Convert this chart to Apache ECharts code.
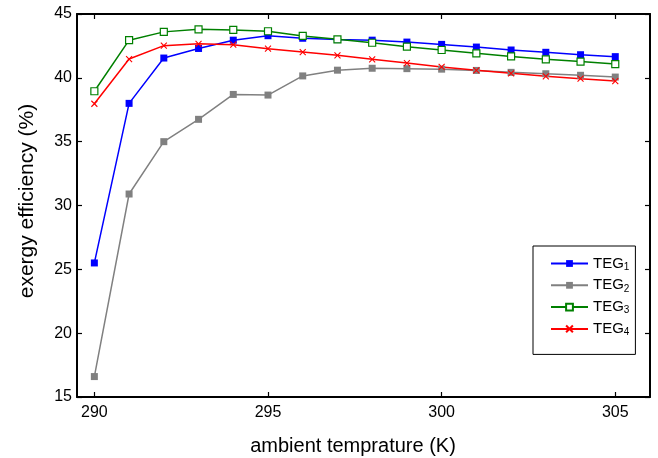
<!DOCTYPE html>
<html><head><meta charset="utf-8">
<script src="https://cdn.jsdelivr.net/npm/echarts@6/dist/echarts.min.js"></script>
<style>html,body{margin:0;padding:0;background:#fff}#c{width:658px;height:458px}</style>
</head><body><div id="c"></div>
<script>
const temps = [290,291,292,293,294,295,296,297,298,299,300,301,302,303,304,305];
const teg1 = [25.5,38.0,41.55,42.3,42.95,43.3,43.1,43.0,42.95,42.8,42.62,42.41,42.18,42.0,41.81,41.66];
const teg2 = [16.6,30.9,35.0,36.75,38.7,38.65,40.15,40.6,40.75,40.72,40.68,40.58,40.43,40.32,40.2,40.06];
const teg3 = [38.95,42.95,43.6,43.8,43.75,43.65,43.28,43.02,42.75,42.44,42.18,41.92,41.68,41.45,41.27,41.08];
const teg4 = [37.97,41.47,42.52,42.66,42.6,42.28,42.02,41.76,41.45,41.16,40.85,40.59,40.35,40.12,39.93,39.75];
const xTicks = [290,295,300,305];
const seriesNames = ['TEG1','TEG2','TEG3','TEG4'];
const xTitle = 'ambient temprature (K)';
const yTitle = 'exergy efficiency (%)';

const FONT = "'Liberation Sans', Arial, sans-serif";
const pair = arr => temps.map((t,i)=>[t,arr[i]]);

const chart = echarts.init(document.getElementById('c'), null, {renderer:'canvas'});
const axisCommonX = {
  type:'value', min:289.5, max:306,
  axisLine:{show:true, onZero:false, lineStyle:{color:'#000', width:2}},
  axisTick:{show:true, inside:true, length:5, customValues:xTicks, lineStyle:{color:'#000', width:1.2}},
  splitLine:{show:false}
};
const axisCommonY = {
  type:'value', min:15, max:45, interval:5,
  axisLine:{show:true, onZero:false, lineStyle:{color:'#000', width:2}},
  axisTick:{show:true, inside:true, length:5, lineStyle:{color:'#000', width:1.2}},
  splitLine:{show:false}
};
const option = {
  animation:false,
  backgroundColor:'#fff',
  grid:{left:77, right:8, top:14, bottom:61, containLabel:false, outerBoundsMode:'none'},
  xAxis:[
    Object.assign({}, axisCommonX, {position:'bottom',
      axisLabel:{show:true, customValues:xTicks, fontSize:16, color:'#000', margin:8, fontFamily:FONT}}),
    Object.assign({}, axisCommonX, {position:'top', axisLabel:{show:false}})
  ],
  yAxis:[
    Object.assign({}, axisCommonY, {position:'left',
      axisLabel:{show:true, fontSize:16, color:'#000', margin:5, fontFamily:FONT}}),
    Object.assign({}, axisCommonY, {position:'right', axisLabel:{show:false}})
  ],
  legend:{
    orient:'vertical', left:533, top:246,
    padding:[10,6,17,17],
    itemWidth:37, itemHeight:8.5, itemGap:5.8,
    borderColor:'#000', borderWidth:1, backgroundColor:'#fff',
    data:seriesNames,
    formatter: n => '{a|TEG}{s|' + n.slice(3) + '}',
    textStyle:{
      color:'#000', fontFamily:FONT,
      rich:{
        a:{fontSize:15, lineHeight:15, verticalAlign:'top', fontFamily:FONT, color:'#000'},
        s:{fontSize:10, lineHeight:10, padding:[6,0,0,0], verticalAlign:'top', fontFamily:FONT, color:'#000'}
      }
    }
  },
  series:[
    {name:'TEG1', type:'line', data:pair(teg1), symbol:'rect', symbolSize:7,
      lineStyle:{color:'#0000ff', width:1.5}, itemStyle:{color:'#0000ff'}},
    {name:'TEG2', type:'line', data:pair(teg2), symbol:'rect', symbolSize:7,
      lineStyle:{color:'#808080', width:1.5}, itemStyle:{color:'#808080'}},
    {name:'TEG3', type:'line', data:pair(teg3), symbol:'rect', symbolSize:7,
      lineStyle:{color:'#008000', width:1.5}, itemStyle:{color:'#ffffff', borderColor:'#008000', borderWidth:1.2}},
    {name:'TEG4', type:'line', data:pair(teg4), symbol:'path://M0,0L10,10M0,10L10,0', symbolSize:6,
      lineStyle:{color:'#ff0000', width:1.5}, itemStyle:{color:'#ff0000', borderColor:'#ff0000', borderWidth:1.1}}
  ],
  graphic:[
    {type:'text', x:353, y:446, style:{text:xTitle, textAlign:'center', textVerticalAlign:'middle', font:'20px ' + FONT, fill:'#000'}},
    {type:'text', x:27, y:201, rotation:Math.PI/2, style:{text:yTitle, textAlign:'center', textVerticalAlign:'middle', font:'21px ' + FONT, fill:'#000'}}
  ]
};
chart.setOption(option);
</script></body></html>
